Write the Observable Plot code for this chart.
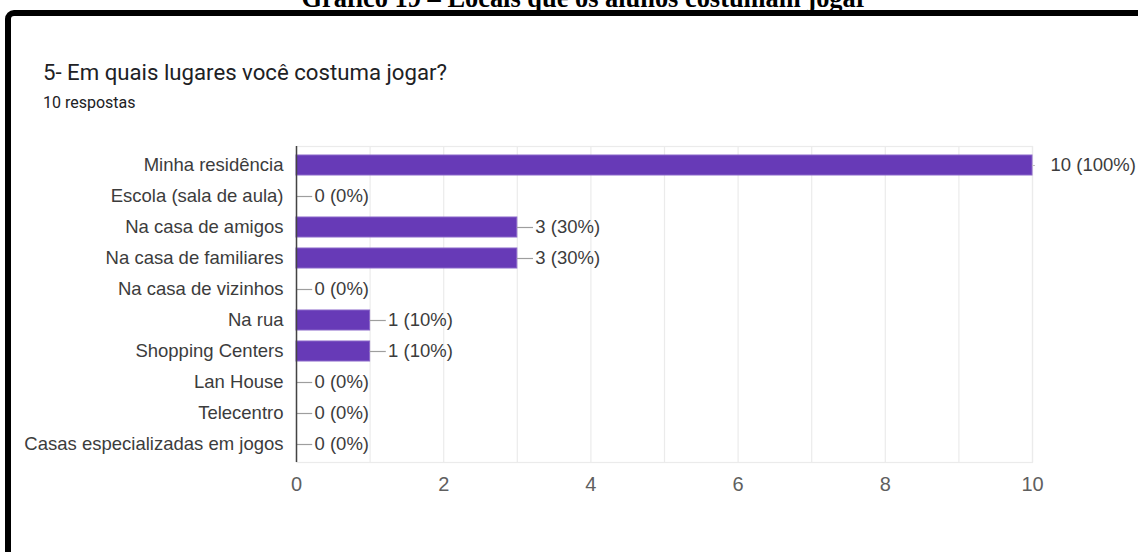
<!DOCTYPE html>
<html>
<head>
<meta charset="utf-8">
<script src="https://cdn.jsdelivr.net/npm/d3@7"></script>
<script src="https://cdn.jsdelivr.net/npm/@observablehq/plot@0.6"></script>
<style>
  html, body { margin: 0; padding: 0; background: #fff; overflow: hidden; }
  #wrap { position: relative; width: 1138px; height: 552px; overflow: hidden; background: #fff; }
  #caption { position: absolute; left: 0; width: 1169px; top: -17px; text-align: center;
    font-family: "Liberation Serif", "Times New Roman", serif; font-weight: bold; font-size: 26.4px; color: #000; white-space: nowrap; }
  #border { position: absolute; left: 5px; top: 10px; width: 1300px; height: 700px;
    border: 6px solid #000; border-radius: 9px; box-sizing: border-box; }
  #title { position: absolute; left: 43px; top: 59px; font-family: Roboto, sans-serif; font-size: 22.2px; color: #202124; white-space: nowrap; }
  #sub { position: absolute; left: 43px; top: 93px; font-family: Roboto, sans-serif; font-size: 16px; color: #202124; white-space: nowrap; }
  #chart { position: absolute; left: 0; top: 0; }
</style>
</head>
<body>
<div id="wrap">
  <div id="chart"></div>
  <div id="border"></div>
  <div id="caption">Gráfico 19 – Locais que os alunos costumam jogar</div>
  <div id="title">5- Em quais lugares você costuma jogar?</div>
  <div id="sub">10 respostas</div>
</div>
<script>
const categories = [
  "Minha residência",
  "Escola (sala de aula)",
  "Na casa de amigos",
  "Na casa de familiares",
  "Na casa de vizinhos",
  "Na rua",
  "Shopping Centers",
  "Lan House",
  "Telecentro",
  "Casas especializadas em jogos"
];
const counts = [10, 0, 3, 3, 0, 1, 1, 0, 0, 0];
const percents = [100, 0, 30, 30, 0, 10, 10, 0, 0, 0];
const xTicks = [0, 2, 4, 6, 8, 10];
const gridTicks = [0, 1, 2, 3, 4, 5, 6, 7, 8, 9, 10];

const data = categories.map((c, i) => ({category: c, value: counts[i], pct: percents[i]}));
const maxCount = d3.max(counts);

const chart = Plot.plot({
  width: 1138,
  height: 552,
  marginLeft: 296,
  marginRight: 106,
  marginTop: 146,
  marginBottom: 90,
  style: {fontFamily: "'Liberation Sans', Arial, sans-serif", background: "transparent", overflow: "visible"},
  x: {domain: [0, 10]},
  y: {domain: categories, paddingInner: 0.37, paddingOuter: 0.185},
  marks: [
    Plot.gridX(gridTicks, {stroke: "#ebebeb", strokeOpacity: 1, strokeWidth: 1.2}),
    Plot.frame({stroke: "#ebebeb", strokeWidth: 1.2}),
    Plot.barX(data, {x: "value", y: "category", fill: "#673ab7", stroke: "#8a66c9", strokeWidth: 1}),
    Plot.ruleY(data.filter(d => d.value < maxCount), {y: "category", x1: "value", x2: d => d.value + 0.22, stroke: "#9e9e9e", strokeWidth: 1.2}),
    Plot.ruleY(data.filter(d => d.value === maxCount), {y: "category", x1: "value", x2: d => d.value + 0.04, stroke: "#bdbdbd", strokeWidth: 1}),
    Plot.text(data, {x: "value", y: "category", text: d => `${d.value} (${d.pct}%)`, textAnchor: "start", dx: 18, fontSize: 18.5, fill: "#3c3c3c"}),
    Plot.ruleX([0], {stroke: "#444", strokeWidth: 1.5}),
    Plot.axisX({ticks: xTicks, tickSize: 0, tickPadding: 14, label: null, fontSize: 20, fill: "#5f5f5f"}),
    Plot.axisY({tickSize: 0, tickPadding: 13, label: null, fontSize: 18.5, fill: "#3c3c3c"})
  ]
});
document.getElementById("chart").appendChild(chart);
</script>
</body>
</html>
